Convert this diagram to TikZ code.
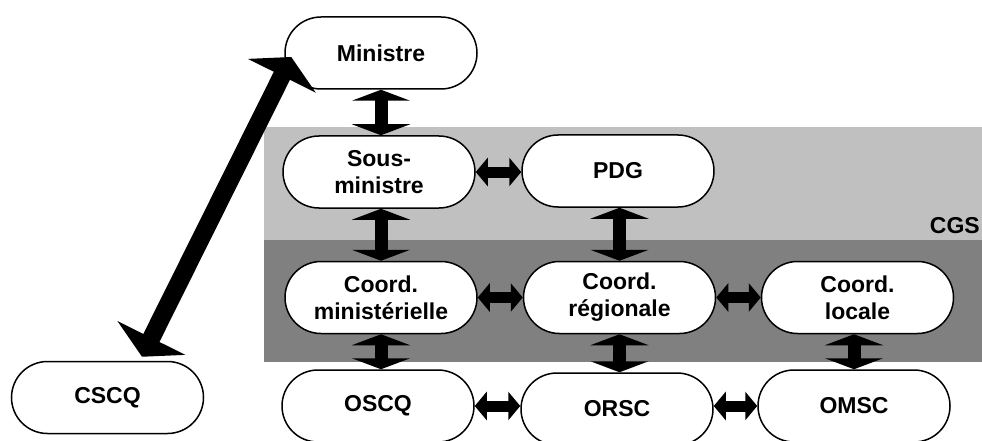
\documentclass[tikz,border=0pt]{standalone}
\usepackage{fontspec}
\setmainfont{Liberation Sans}
\usetikzlibrary{shapes.misc,arrows.meta,calc}
\definecolor{bandlight}{HTML}{C0C0C0}
\definecolor{banddark}{HTML}{808080}
\begin{document}
\begin{tikzpicture}[x=1pt,y=-1pt,
  box/.style={rounded rectangle, draw=black, line width=1.5pt, fill=white,
    minimum width=192pt, minimum height=72pt, inner sep=0pt, align=center,
    font=\fontsize{23}{27}\selectfont\bfseries},
  vbi/.style={line width=13pt, {Triangle[width=58pt,length=11pt]}-{Triangle[width=58pt,length=11pt]}},
  hbi/.style={line width=11pt, {Triangle[width=28pt,length=12pt]}-{Triangle[width=28pt,length=12pt]}},
  dbi/.style={line width=18pt, {Triangle[width=75pt,length=21pt]}-{Triangle[width=75pt,length=21pt]}}]
\useasboundingbox (0,0) rectangle (982,441);
\fill[bandlight] (264,127) rectangle (982,240);
\fill[banddark] (264,240) rectangle (982,362);
\node[anchor=base east, font=\fontsize{23}{27}\selectfont\bfseries, inner sep=0pt] (cgs) at (980,233) {CGS};

\node[box] (mini) at (381,53) {Ministre};
\node[box] (sous) at (379,172) {Sous-\\ministre};
\node[box] (pdg) at (618,171) {PDG};
\node[box] (cmin) at (381,297.5) {Coord.\\ministérielle};
\node[box] (creg) at (619.5,297.5) {Coord.\\régionale};
\node[box] (cloc) at (857.5,297.5) {Coord.\\locale};
\node[box] (oscq) at (378,406) {OSCQ};
\node[box] (orsc) at (617,409) {ORSC};
\node[box] (omsc) at (854,406) {OMSC};
\node[box] (cscq) at (107.5,397.5) {CSCQ};

\draw[vbi] (mini.south) -- (mini.south |- sous.north);
\draw[vbi] (sous.south -| cmin.north) -- (cmin.north);
\draw[vbi] (pdg.south -| creg.north) -- (creg.north);
\draw[vbi] (cmin.south) -- (cmin.south |- oscq.north);
\draw[vbi] (creg.south) -- (creg.south |- orsc.north);
\draw[vbi] (cloc.south -| omsc.north) -- (omsc.north);

\draw[hbi] (sous.east) -- (sous.east -| pdg.west);
\draw[hbi] (cmin.east) -- (creg.west);
\draw[hbi] (creg.east) -- (cloc.west);
\draw[hbi] (oscq.east) -- (oscq.east -| orsc.west);
\draw[hbi] (orsc.east |- omsc.west) -- (omsc.west);

\draw[dbi] ($(cscq.north)+(34.5,-4)$) -- ($(mini.west)+(7,4)$);
\end{tikzpicture}
\end{document}
